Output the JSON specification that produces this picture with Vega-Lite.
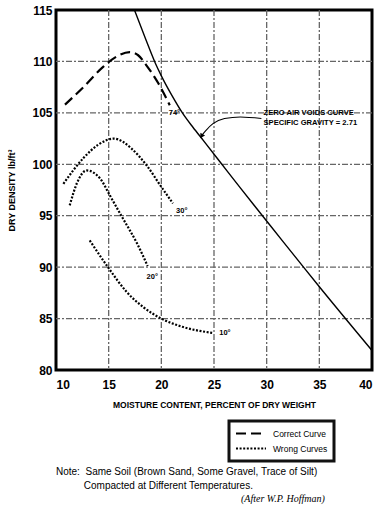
{
  "$schema": "https://vega.github.io/schema/vega-lite/v6.json",
  "width": 316,
  "height": 360,
  "autosize": {"type": "none"},
  "padding": {"left": 56, "top": 10, "right": 12, "bottom": 136},
  "background": "white",
  "title": {
    "text": ["Note:\u00a0\u00a0Same Soil (Brown Sand, Some Gravel, Trace of Silt)", "\u200b\u00a0\u00a0\u00a0\u00a0\u00a0\u00a0\u00a0\u00a0\u00a0\u00a0Compacted at Different Temperatures."],
    "subtitle": "\u200b\u00a0\u00a0\u00a0\u00a0\u00a0\u00a0\u00a0\u00a0\u00a0\u00a0\u00a0\u00a0\u00a0\u00a0\u00a0\u00a0\u00a0\u00a0\u00a0\u00a0\u00a0\u00a0\u00a0\u00a0\u00a0\u00a0\u00a0\u00a0\u00a0\u00a0\u00a0\u00a0\u00a0\u00a0\u00a0\u00a0\u00a0\u00a0\u00a0\u00a0\u00a0\u00a0\u00a0\u00a0\u00a0\u00a0\u00a0\u00a0\u00a0\u00a0\u00a0\u00a0\u00a0\u00a0\u00a0\u00a0\u00a0\u00a0\u00a0\u00a0\u00a0\u00a0\u00a0\u00a0\u00a0\u00a0\u00a0\u00a0\u00a0\u00a0\u00a0\u00a0\u00a0\u00a0(After W.P. Hoffman)",
    "orient": "bottom",
    "anchor": "start",
    "frame": "group",
    "offset": 4,
    "font": "Liberation Sans",
    "fontSize": 10,
    "fontWeight": "normal",
    "lineHeight": 14,
    "color": "black",
    "subtitleFont": "Liberation Serif",
    "subtitleFontStyle": "italic",
    "subtitleFontSize": 10,
    "subtitleColor": "black",
    "subtitlePadding": 3
  },
  "datasets": {
    "xgrid": [{"m": 15}, {"m": 20}, {"m": 25}, {"m": 30}, {"m": 35}],
    "ygrid": [{"d": 85}, {"d": 90}, {"d": 95}, {"d": 100}, {"d": 105}, {"d": 110}],
    "curves": [
      {"series": "74°", "type": "Correct Curve", "m": 10.85, "d": 105.8},
      {"series": "74°", "type": "Correct Curve", "m": 12.6, "d": 107.5},
      {"series": "74°", "type": "Correct Curve", "m": 14.5, "d": 109.5},
      {"series": "74°", "type": "Correct Curve", "m": 15.8, "d": 110.5},
      {"series": "74°", "type": "Correct Curve", "m": 17.0, "d": 110.9},
      {"series": "74°", "type": "Correct Curve", "m": 17.8, "d": 110.6},
      {"series": "74°", "type": "Correct Curve", "m": 18.6, "d": 109.6},
      {"series": "74°", "type": "Correct Curve", "m": 19.7, "d": 107.9},
      {"series": "74°", "type": "Correct Curve", "m": 20.8, "d": 105.75},
      {"series": "30°", "type": "Wrong Curves", "m": 10.7, "d": 98.1},
      {"series": "30°", "type": "Wrong Curves", "m": 12.6, "d": 100.6},
      {"series": "30°", "type": "Wrong Curves", "m": 14.0, "d": 101.9},
      {"series": "30°", "type": "Wrong Curves", "m": 15.5, "d": 102.5},
      {"series": "30°", "type": "Wrong Curves", "m": 17.2, "d": 101.5},
      {"series": "30°", "type": "Wrong Curves", "m": 18.6, "d": 99.9},
      {"series": "30°", "type": "Wrong Curves", "m": 20.0, "d": 97.8},
      {"series": "30°", "type": "Wrong Curves", "m": 21.1, "d": 96.2},
      {"series": "20°", "type": "Wrong Curves", "m": 11.3, "d": 96.0},
      {"series": "20°", "type": "Wrong Curves", "m": 12.0, "d": 98.2},
      {"series": "20°", "type": "Wrong Curves", "m": 12.9, "d": 99.4},
      {"series": "20°", "type": "Wrong Curves", "m": 14.2, "d": 98.6},
      {"series": "20°", "type": "Wrong Curves", "m": 15.1, "d": 97.0},
      {"series": "20°", "type": "Wrong Curves", "m": 16.2, "d": 95.0},
      {"series": "20°", "type": "Wrong Curves", "m": 17.0, "d": 93.6},
      {"series": "20°", "type": "Wrong Curves", "m": 17.7, "d": 92.3},
      {"series": "20°", "type": "Wrong Curves", "m": 18.7, "d": 90.1},
      {"series": "10°", "type": "Wrong Curves", "m": 13.2, "d": 92.6},
      {"series": "10°", "type": "Wrong Curves", "m": 15.0, "d": 89.9},
      {"series": "10°", "type": "Wrong Curves", "m": 16.7, "d": 87.6},
      {"series": "10°", "type": "Wrong Curves", "m": 18.3, "d": 86.1},
      {"series": "10°", "type": "Wrong Curves", "m": 20.0, "d": 85.0},
      {"series": "10°", "type": "Wrong Curves", "m": 22.0, "d": 84.2},
      {"series": "10°", "type": "Wrong Curves", "m": 24.9, "d": 83.6}
    ],
    "zav": [
      {"m": 17.45, "d": 115.0},
      {"m": 18.5, "d": 112.2},
      {"m": 19.4, "d": 109.9},
      {"m": 20.0, "d": 108.6},
      {"m": 21.0, "d": 106.7},
      {"m": 22.0, "d": 105.0},
      {"m": 23.0, "d": 103.6},
      {"m": 24.0, "d": 102.3},
      {"m": 25.6, "d": 100.2},
      {"m": 27.5, "d": 97.7},
      {"m": 29.6, "d": 95.0},
      {"m": 31.5, "d": 92.55},
      {"m": 33.5, "d": 90.0},
      {"m": 35.0, "d": 88.1},
      {"m": 40.0, "d": 81.9}
    ],
    "arrow": [
      {"m": 29.5, "d": 104.45},
      {"m": 27.5, "d": 104.6},
      {"m": 26.0, "d": 104.45},
      {"m": 24.9, "d": 103.95},
      {"m": 24.2, "d": 103.25},
      {"m": 23.85, "d": 102.8}
    ],
    "arrowhead": [
      {"m": 23.85, "d": 102.8}
    ],
    "labels": [
      {"label": "74°", "m": 20.7, "d": 105.0},
      {"label": "30°", "m": 21.4, "d": 95.5},
      {"label": "20°", "m": 18.6, "d": 89.0},
      {"label": "10°", "m": 25.5, "d": 83.6}
    ],
    "notes": [
      {"label": "ZERO AIR VOIDS CURVE", "m": 29.7, "d": 105.0},
      {"label": "SPECIFIC GRAVITY = 2.71", "m": 29.7, "d": 104.0}
    ]
  },
  "layer": [
    {
      "data": {"name": "xgrid"},
      "mark": {"type": "rule", "color": "#666666", "strokeWidth": 1.3, "strokeDash": [6, 2, 2, 2], "opacity": 1},
      "encoding": {
        "x": {
          "field": "m",
          "type": "quantitative",
          "scale": {"domain": [10, 40], "nice": false, "zero": false},
          "axis": {
            "values": [10, 15, 20, 25, 30, 35, 40],
            "grid": false,
            "title": "MOISTURE CONTENT, PERCENT OF DRY WEIGHT",
            "labelPadding": 9,
            "titlePadding": 10,
            "titleFontSize": 8.5
          }
        }
      }
    },
    {
      "data": {"name": "ygrid"},
      "mark": {"type": "rule", "color": "#666666", "strokeWidth": 1.3, "strokeDash": [6, 2, 2, 2], "opacity": 1},
      "encoding": {
        "y": {
          "field": "d",
          "type": "quantitative",
          "scale": {"domain": [80, 115], "nice": false, "zero": false},
          "axis": {
            "values": [80, 85, 90, 95, 100, 105, 110, 115],
            "grid": false,
            "title": "DRY DENSITY lb/ft³",
            "labelPadding": 4,
            "titlePadding": 15,
            "titleFontSize": 9
          }
        }
      }
    },
    {
      "data": {"name": "curves"},
      "mark": {"type": "line", "interpolate": "monotone", "strokeWidth": 2.2, "color": "black"},
      "encoding": {
        "x": {"field": "m", "type": "quantitative", "scale": {"domain": [10, 40], "nice": false, "zero": false}},
        "y": {"field": "d", "type": "quantitative", "scale": {"domain": [80, 115], "nice": false, "zero": false}},
        "detail": {"field": "series", "type": "nominal"},
        "strokeDash": {
          "field": "type",
          "type": "nominal",
          "scale": {"domain": ["Correct Curve", "Wrong Curves"], "range": [[10, 5], [2, 1.6]]},
          "legend": {
            "title": null,
            "orient": "none",
            "legendX": 173,
            "legendY": 411,
            "padding": 6,
            "strokeColor": "#111",
            "symbolType": "stroke",
            "symbolSize": 900,
            "clipHeight": 13,
            "symbolStrokeWidth": 2,
            "symbolStrokeColor": "black",
            "labelFont": "Liberation Sans",
            "labelFontSize": 8.5,
            "labelColor": "black",
            "rowPadding": 2,
            "labelOffset": 6,
            "encode": {"legend": {"update": {"strokeWidth": {"value": 3}}}}
          }
        }
      }
    },
    {
      "data": {"name": "zav"},
      "mark": {"type": "line", "interpolate": "monotone", "strokeWidth": 1.4, "color": "black"},
      "encoding": {
        "x": {"field": "m", "type": "quantitative"},
        "y": {"field": "d", "type": "quantitative"}
      }
    },
    {
      "data": {"name": "arrow"},
      "mark": {"type": "line", "interpolate": "monotone", "strokeWidth": 1.1, "color": "black"},
      "encoding": {
        "x": {"field": "m", "type": "quantitative"},
        "y": {"field": "d", "type": "quantitative"}
      }
    },
    {
      "data": {"name": "arrowhead"},
      "mark": {"type": "point", "shape": "triangle", "angle": 212, "size": 30, "filled": true, "color": "black", "opacity": 1},
      "encoding": {
        "x": {"field": "m", "type": "quantitative"},
        "y": {"field": "d", "type": "quantitative"}
      }
    },
    {
      "data": {"name": "labels"},
      "mark": {"type": "text", "align": "left", "baseline": "middle", "font": "Liberation Sans", "fontSize": 7.5, "fontWeight": "bold", "color": "black"},
      "encoding": {
        "x": {"field": "m", "type": "quantitative"},
        "y": {"field": "d", "type": "quantitative"},
        "text": {"field": "label"}
      }
    },
    {
      "data": {"name": "notes"},
      "mark": {"type": "text", "align": "left", "baseline": "middle", "font": "Liberation Sans", "fontSize": 7.6, "fontWeight": "bold", "color": "black"},
      "encoding": {
        "x": {"field": "m", "type": "quantitative"},
        "y": {"field": "d", "type": "quantitative"},
        "text": {"field": "label"}
      }
    }
  ],
  "config": {
    "view": {"stroke": "black", "strokeWidth": 3},
    "font": "Liberation Sans",
    "axis": {
      "domain": false,
      "ticks": false,
      "grid": false,
      "labelFont": "Liberation Sans",
      "labelFontWeight": "bold",
      "labelFontSize": 12,
      "labelColor": "black",
      "titleFont": "Liberation Sans",
      "titleFontWeight": "bold",
      "titleColor": "black"
    }
  }
}
